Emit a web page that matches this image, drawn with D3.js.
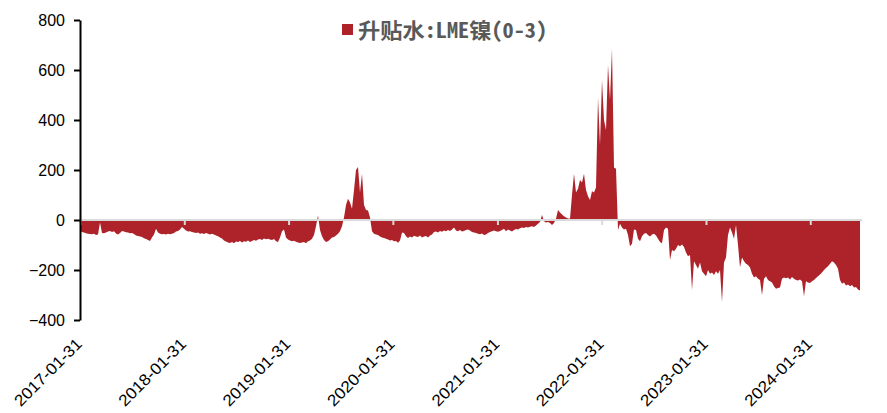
<!DOCTYPE html>
<html><head><meta charset="utf-8">
<script src="https://cdn.jsdelivr.net/npm/d3@7"></script>
<style>body{margin:0;background:#fff}svg{display:block}</style>
</head><body>
<svg id="chart" width="887" height="413"></svg>
<script>
// ---- data ----
const seriesName = "升贴水:LME镍(0-3)";
const startDate = "2017-01-31";   // first weekly observation
const stepDays = 7;                // one value per week
const xTickLabels = ["2017-01-31","2018-01-31","2019-01-31","2020-01-31","2021-01-31","2022-01-31","2023-01-31","2024-01-31"];
const yTickValues = [-400,-200,0,200,400,600,800];

const values2017_2018 = [
-45,-48,-50,-53,-55,-56,-57,-55,-60,-58,
-10,-52,-53,-50,-46,-44,-48,-45,-54,-58,
-52,-44,-46,-49,-50,-53,-52,-56,-62,-64,
-66,-68,-73,-76,-80,-84,-70,-58,-35,-50,
-55,-57,-56,-58,-55,-57,-55,-52,-46,-44,
-38,-28,-35,-42,-46,-45,-48,-50,-52,-50,
-55,-53,-56,-52,-55,-58];
const values2018_2019 = [
-55,-58,-62,-65,-70,-74,-82,-86,-90,-92,
-88,-93,-86,-88,-84,-90,-85,-87,-82,-88,
-84,-80,-83,-78,-76,-80,-74,-77,-75,-78,
-80,-76,-85,-88,-70,-45,-38,-70,-78,-82,
-85,-83,-87,-90,-92,-90,-88,-93,-85,-82,
-75,-60,-25,18,-40,-65,-80,-88,-85,-78,
-70,-68,-62,-55,-45,-25];
const values2019_2021 = [
10,60,85,70,45,120,200,212,110,185,
60,40,38,10,-45,-55,-58,-60,-66,-70,
-72,-75,-78,-82,-80,-85,-84,-91,-82,-50,
-52,-65,-72,-66,-70,-63,-66,-68,-62,-70,
-66,-64,-70,-62,-58,-48,-46,-50,-44,-47,
-42,-45,-40,-44,-38,-30,-42,-45,-40,-46,
-44,-40,-38,-42,-48,-50,-52,-55,-57,-54,
-60,-58,-52,-48,-45,-42];
const values2021 = [
-45,-47,-44,-40,-35,-45,-38,-42,-46,-40,
-36,-38,-33,-30,-32,-28,-30,-27,-25,-28,
-22,-15,-8,20,-5,-10,-8,-12,-20,-12,
5,40,30,22,15,10,6,5];
const values2021_2022 = [
100,185,110,125,160,150,185,120,95,80,
115,110,130,490,300,560,400,360,620,480,
685,210,205];
const values2022_2023 = [
-40,-15,-30,-38,-35,-60,-105,-95,-38,-40,
-75,-85,-65,-55,-52,-60,-66,-58,-55,-62,
-75,-88,-93,-40,-30,-35,-160,-120,-125,-115,
-100,-105,-98,-108,-130,-145,-140,-280,-165,-180,
-195,-170,-205,-215,-225,-200,-215,-210,-220,-205,
-215,-200,-328,-170,-150,-60,-30,-50,-75,-20,
-100,-190];
const values2023_2024 = [
-150,-165,-175,-180,-190,-215,-230,-225,-235,-240,
-300,-235,-225,-240,-245,-250,-265,-275,-272,-270,
-235,-230,-233,-230,-238,-228,-235,-240,-242,-238,
-245,-305,-245,-250,-252,-245,-240,-232,-225,-218,
-210,-200,-192,-185,-175,-165,-170,-180,-195,-240,
-255,-250,-262,-258,-265,-260,-270,-268,-278,-282];

// ---- build ----
const values = [].concat(values2017_2018, values2018_2019, values2019_2021, values2021, values2021_2022, values2022_2023, values2023_2024);
const parse = d3.utcParse("%Y-%m-%d");
const t0 = parse(startDate);
const data = values.map((v, i) => ({date: d3.utcDay.offset(t0, i * stepDays), value: v}));

const svg = d3.select("#chart");
const x = d3.scaleUtc().domain([t0, data[data.length - 1].date]).range([80, 860]);
const y = d3.scaleLinear().domain([-400, 800]).range([320, 20]);
const color = "#ae2229";

// area
svg.append("path")
  .datum(data)
  .attr("fill", color)
  .attr("d", d3.area().x(d => x(d.date)).y0(y(0)).y1(d => y(d.value)));

// zero line (x axis) with ticks
const tickDates = xTickLabels.map(parse);
const xAxis = svg.append("g").attr("transform", `translate(0,${y(0)})`)
  .call(d3.axisBottom(x).tickValues(tickDates).tickSize(5).tickFormat(""));
xAxis.select(".domain").remove();
xAxis.selectAll(".tick line").attr("stroke", "#d9d9d9").attr("stroke-width", 2);
svg.append("line").attr("x1", 80).attr("x2", 862).attr("y1", y(0)).attr("y2", y(0))
  .attr("stroke", "#d9d9d9").attr("stroke-width", 2);

// x labels (rotated, at bottom)
svg.append("g").selectAll("text").data(tickDates).join("text")
  .attr("transform", d => `translate(${x(d) + 3},${345}) rotate(-45)`)
  .attr("text-anchor", "end")
  .attr("font-family", "'Liberation Sans', Arial, sans-serif")
  .attr("font-size", 16)
  .attr("textLength", 88).attr("lengthAdjust", "spacingAndGlyphs")
  .attr("fill", "#000")
  .text((d, i) => xTickLabels[i]);

// y axis
const yAxis = svg.append("g").attr("transform", "translate(80,0)")
  .call(d3.axisLeft(y).tickValues(yTickValues).tickSize(6).tickPadding(9).tickSizeOuter(0));
yAxis.select(".domain").attr("stroke", "#000").attr("stroke-width", 2);
yAxis.selectAll(".tick line").attr("stroke", "#000").attr("stroke-width", 2);
yAxis.selectAll(".tick text").attr("font-family", "'Liberation Sans', Arial, sans-serif")
  .attr("font-size", 16).attr("fill", "#000");

// legend
const lg = svg.append("g");
lg.append("rect").attr("x", 342).attr("y", 24).attr("width", 11).attr("height", 11).attr("fill", color);
lg.append("text").attr("x", 358).attr("y", 30).attr("dy", "0.36em")
  .attr("font-family", "'Noto Sans Mono CJK SC', 'Noto Sans CJK SC', sans-serif").attr("font-weight", "bold")
  .attr("font-size", 21).attr("fill", "#595959")
  .attr("textLength", 189).attr("lengthAdjust", "spacingAndGlyphs")
  .text(seriesName);
</script>
</body></html>
